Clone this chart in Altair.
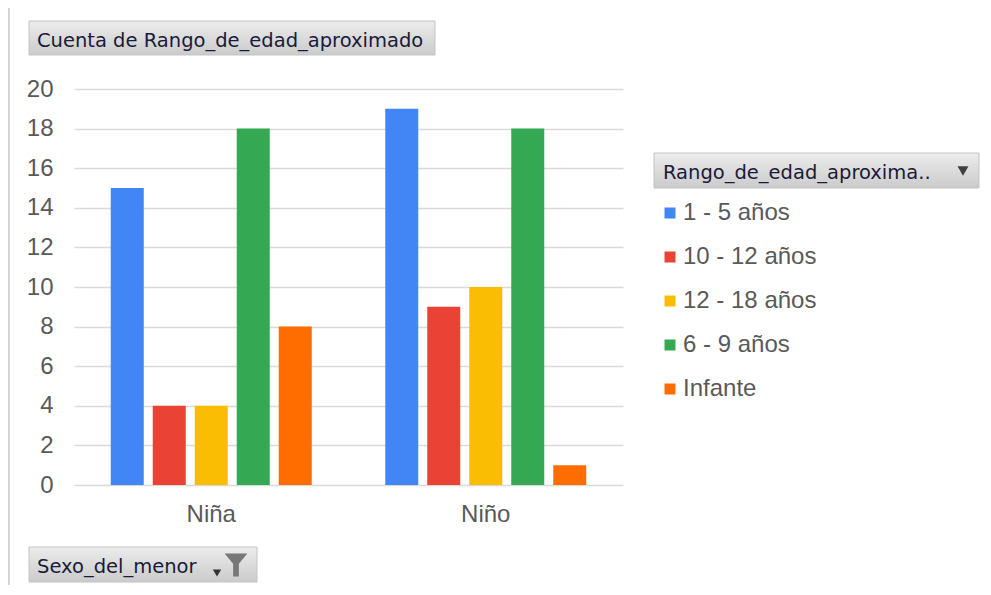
import altair as alt
import pandas as pd

sexo = ["Niña", "Niño"]
rangos = ["1 - 5 años", "10 - 12 años", "12 - 18 años", "6 - 9 años", "Infante"]
nina_counts = [15, 4, 4, 18, 8]
nino_counts = [19, 9, 10, 18, 1]
colores = ["#4285F4", "#EA4335", "#FBBC04", "#34A853", "#FF6D01"]
y_ticks = [0, 2, 4, 6, 8, 10, 12, 14, 16, 18, 20]

titulo_y = "Cuenta de Rango_de_edad_aproximado"
titulo_leyenda = "Rango_de_edad_aproxima.."
titulo_x = "Sexo_del_menor"

rows = []
for s, counts in zip(sexo, [nina_counts, nino_counts]):
    for r, c in zip(rangos, counts):
        rows.append({"Sexo": s, "Rango": r, "Cuenta": c})
df = pd.DataFrame(rows)

LABEL_FONT = "Liberation Sans"
BTN_FONT = "DejaVu Sans"
GRAY = "#595959"

bars = alt.Chart(df).mark_bar().encode(
    x=alt.X("Sexo:N", sort=sexo, title=None,
            scale=alt.Scale(paddingInner=0, paddingOuter=0),
            axis=alt.Axis(labelAngle=0, domain=False, ticks=False, labelFont=LABEL_FONT,
                          labelFontSize=24, labelColor=GRAY, labelPadding=17)),
    xOffset=alt.XOffset("Rango:N", sort=rangos,
                        scale=alt.Scale(paddingInner=0.214, paddingOuter=0.875)),
    y=alt.Y("Cuenta:Q", title=None,
            scale=alt.Scale(domain=[0, 20], nice=False),
            axis=alt.Axis(values=y_ticks, domain=False, ticks=False, labelFont=LABEL_FONT,
                          labelFontSize=24, labelColor=GRAY, labelPadding=21,
                          gridColor="#d9d9d9", gridWidth=1.5)),
    color=alt.Color("Rango:N", sort=rangos, title=None,
                    scale=alt.Scale(domain=rangos, range=colores),
                    legend=alt.Legend(orient="none", legendX=584, legendY=112,
                                      symbolType="square", symbolSize=121,
                                      symbolStrokeWidth=0, labelFont=LABEL_FONT,
                                      labelFontSize=24, labelColor=GRAY,
                                      labelOffset=1, rowPadding=20, padding=0)),
)

one = alt.Data(values=[{}])
grad = alt.Gradient(gradient="linear",
                    stops=[alt.GradientStop(color="#ececec", offset=0),
                           alt.GradientStop(color="#cbcbcb", offset=1)],
                    x1=0, x2=0, y1=0, y2=1)


def button(x0, x1, y0, y1, text, tx, ty):
    box = alt.Chart(one).mark_rect(fill=grad, stroke="#c4c4c4", strokeWidth=1).encode(
        x=alt.value(x0), x2=alt.value(x1), y=alt.value(y0), y2=alt.value(y1))
    label = alt.Chart(one).mark_text(align="left", baseline="alphabetic", font=BTN_FONT,
                                     fontSize=19.5, color="#1a1a3a").encode(
        x=alt.value(tx), y=alt.value(ty), text=alt.value(text))
    return box + label


btn_title = button(-45, 361, -68, -34, titulo_y, -37, -42)
btn_legend = button(580, 905, 64, 99, titulo_leyenda, 589, 90)
btn_x = button(-45, 183, 458, 493, titulo_x, -37, 484)

tri = alt.Chart(one).mark_point(shape="triangle-down", filled=True, color="#404040",
                                size=120, opacity=1).encode(
    x=alt.value(889), y=alt.value(82))
arrow = alt.Chart(one).mark_point(shape="triangle-down", filled=True, color="#333333",
                                  size=70, opacity=1).encode(
    x=alt.value(143), y=alt.value(484))
funnel = alt.Chart(one).mark_point(
    shape="M-1,-1L1,-1L0.25,-0.1L0.25,1L-0.25,1L-0.25,-0.1Z",
    filled=True, color="#777777", size=520, opacity=1).encode(
    x=alt.value(162), y=alt.value(476))

border = alt.Chart(one).mark_rule(color="#d4d4d4", strokeWidth=2).encode(
    x=alt.value(-65), y=alt.value(-81), y2=alt.value(510))

chart = alt.layer(border, bars, btn_title, btn_legend, btn_x, tri, arrow, funnel).properties(
    width=549, height=396,
    autosize=alt.AutoSizeParams(type="none"),
    padding={"left": 66, "top": 81, "right": 360, "bottom": 100},
    background="white",
).configure_view(stroke=None)

chart.save("out.html", embed_options={"renderer": "svg", "actions": False})
